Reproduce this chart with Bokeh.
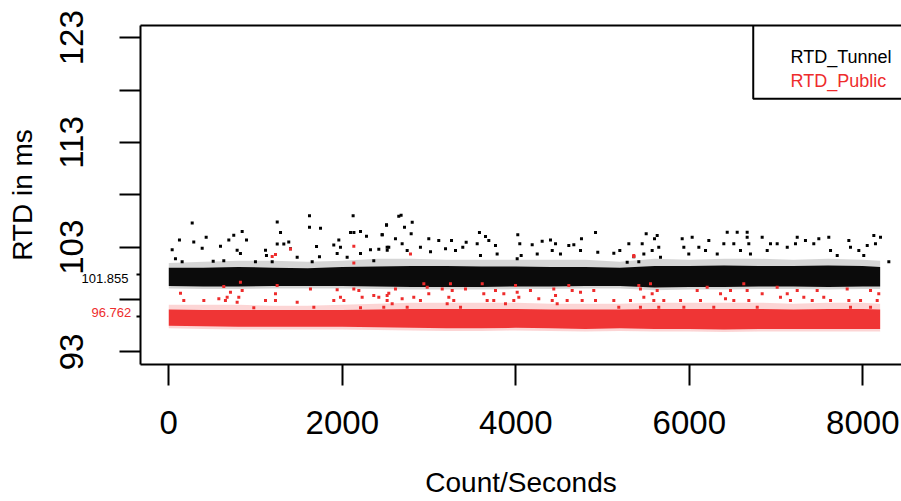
from bokeh.plotting import figure
from bokeh.models import Range1d, FixedTicker, LinearAxis, Label, ColumnDataSource
from bokeh.embed import file_html
from bokeh.resources import INLINE
from bokeh.core.properties import value

FONT = "Liberation Sans"
RED = "#EE2C2C"

# ---------------- data ----------------
x_ticks = [0, 2000, 4000, 6000, 8000]
y_ticks = [93, 98, 103, 108, 113, 118, 123]
y_tick_labels = {93: "93", 98: "", 103: "103", 108: "", 113: "113", 118: "", 123: "123"}
series_names = ["RTD_Tunnel", "RTD_Public"]
mean_labels = ["101.855", "96.762"]
mean_label_x = [-464, -433]
mean_label_pos = [100.03, 96.76]
mean_tick_pos = [100.39, 96.34]

# dense band of each series (lower / upper edge of the core and of the fringe)
band_x = [0, 400, 800, 1200, 1600, 2000, 2400, 2800, 3200, 3600, 4000,
          4400, 4800, 5200, 5600, 6000, 6400, 6800, 7200, 7600, 8000, 8200]
tunnel_hi_outer = [101.5, 101.6, 101.7, 101.7, 101.6, 101.7, 101.9, 101.9, 101.8, 101.8, 101.8,
                   101.8, 101.8, 101.6, 101.9, 101.8, 101.9, 101.9, 101.8, 101.9, 101.8, 101.7]
tunnel_hi = [101.05, 101.05, 101.1, 101.05, 101.0, 101.1, 101.15, 101.2, 101.2, 101.15, 101.15,
             101.1, 101.1, 101.05, 101.2, 101.2, 101.25, 101.2, 101.2, 101.25, 101.2, 101.1]
tunnel_lo = [99.3, 99.25, 99.25, 99.3, 99.3, 99.3, 99.25, 99.2, 99.2, 99.2, 99.25,
             99.25, 99.3, 99.3, 99.15, 99.2, 99.2, 99.25, 99.25, 99.2, 99.25, 99.25]
tunnel_lo_outer = [99.05, 99.0, 99.0, 99.05, 99.05, 99.05, 99.0, 98.95, 98.95, 98.95, 99.0,
                   99.0, 99.05, 99.05, 98.9, 98.95, 98.95, 99.0, 99.0, 98.95, 99.0, 99.0]
public_hi_outer = [97.5, 97.5, 97.5, 97.4, 97.4, 97.5, 97.6, 97.7, 97.7, 97.7, 97.7,
                   97.6, 97.6, 97.6, 97.7, 97.7, 97.7, 97.7, 97.6, 97.7, 97.7, 97.6]
public_hi = [97.05, 97.0, 97.0, 97.0, 97.0, 97.0, 97.05, 97.1, 97.1, 97.1, 97.1,
             97.05, 97.05, 97.05, 97.1, 97.1, 97.1, 97.1, 97.05, 97.1, 97.1, 97.05]
public_lo = [95.5, 95.45, 95.4, 95.4, 95.4, 95.4, 95.35, 95.3, 95.25, 95.25, 95.3,
             95.25, 95.2, 95.25, 95.2, 95.2, 95.15, 95.2, 95.2, 95.2, 95.2, 95.2]
public_lo_outer = [95.25, 95.2, 95.15, 95.15, 95.15, 95.15, 95.1, 95.05, 95.0, 95.0, 95.05,
                   95.0, 94.95, 95.0, 94.95, 94.95, 94.9, 94.95, 94.95, 94.95, 94.95, 94.95]

# isolated points outside the dense bands
tunnel_x = [270, 1250, 1622, 1622, 1749, 2125, 2095, 2134, 2210, 2279, 2510, 2460, 2536,
            123, 39, 288, 431, 385, 596, 692, 749, 846, 896, 826, 788, 1250, 1288, 1326,
            1383, 1403, 1115, 1126, 1192, 1480, 1653, 1703, 1737, 1902, 1960, 1979, 1941,
            2056, 2210, 2325, 2421, 2518, 2363, 77, 154, 512, 634, 999,
            2651, 2678, 2510, 2717, 2806, 2794, 2460, 2613, 2690, 2748, 2517, 2901, 2997,
            3017, 3112, 3190, 3259, 3305, 3389, 3428, 3581, 3651, 3555, 3593, 3689, 3766,
            3785, 4023, 4046, 4062, 4016, 4189, 4247, 4304, 4400, 4420, 4458, 4515, 4611,
            4669, 4757, 4746, 4919, 4945, 5130, 5199, 5303, 5360, 5284, 5418,
            5503, 5630, 5599, 5457, 5476, 5572, 5648, 5668, 5918, 6033, 5937, 5994, 6110,
            6225, 6187, 6322, 6437, 6552, 6667, 6667, 6398, 6513, 6590, 6686, 6705, 6840,
            6936, 6898, 7013, 7129, 7224, 7244, 7339, 7435, 7493, 7608, 7628, 7705, 7839,
            7858, 7954, 8011, 8051, 8127, 8204, 8146, 8300]
tunnel_y = [105.3, 105.4, 106.0, 104.9, 104.8, 106.0, 104.4, 104.4, 104.5, 104.05, 105.1, 104.2, 103.0,
            103.7, 102.75, 103.5, 103.95, 102.9, 103.1, 103.7, 104.15, 104.5, 103.7, 102.4, 102.7, 103.3, 104.4, 103.3,
            103.5, 102.85, 102.7, 102.2, 101.6, 102.05, 101.6, 103.07, 102.1, 103.2, 103.7, 103.0, 102.4,
            102.05, 102.4, 102.75, 102.8, 102.7, 101.7, 101.9, 101.6, 101.66, 101.7, 101.6,
            105.96, 106.06, 105.14, 104.91, 105.39, 104.28, 104.19, 103.8, 103.32, 102.68, 103.0, 103.0, 103.8,
            102.57, 103.64, 102.85, 103.64, 102.68, 103.0, 103.48, 104.4, 104.02, 103.32, 102.2, 103.64, 103.16,
            102.36, 104.2, 103.32, 102.2, 101.9, 103.23, 102.36, 103.57, 103.7, 102.68, 103.32, 102.36, 103.16,
            103.23, 103.8, 102.68, 104.4, 102.52, 102.42, 102.68, 103.32, 102.1, 101.56, 101.62,
            104.28, 104.12, 103.8, 103.32, 102.36, 102.68, 103.0, 102.04, 103.8, 103.96, 103.0, 102.36, 103.0,
            103.64, 102.68, 102.36, 104.44, 104.44, 104.44, 103.96, 103.32, 103.32, 102.68, 103.32, 102.36, 103.96,
            103.32, 102.68, 103.32, 103.0, 103.32, 103.96, 103.64, 103.32, 103.8, 103.96, 102.68, 102.2, 103.64,
            103.0, 102.68, 102.2, 103.16, 104.12, 103.96, 103.32, 101.62]

public_x = [1192, 1230, 1403, 2133, 2133, 826, 634, 711, 673, 846, 135, 173, 404, 577, 653,
            788, 807, 1230, 1249, 1230, 1480, 1633, 1902, 1979, 2018, 2133, 2191, 2229, 2363,
            2421, 2536, 1941, 1115, 980, 1672, 2210, 2517,
            2786, 2940, 2979, 2997, 2901, 2824, 2613, 2517, 2478, 2690, 2575, 2748, 3152, 3247,
            3267, 3228, 3209, 3285, 3420, 3363, 3613, 3631, 3670, 3766, 3746, 3862, 3881, 3997,
            4016, 3977, 4035, 4169, 4265, 4438, 4458, 4420, 4477, 4611, 4650, 4592, 4746, 4765,
            4899, 4919, 5130, 5187, 5360, 5322, 5418,
            5360, 5437, 5476, 5437, 5553, 5572, 5591, 5630, 5648, 5706, 5899, 5937, 6091, 6129,
            6206, 6282, 6360, 6417, 6475, 6513, 6628, 6667, 6686, 6783, 6840, 7013, 7051, 7129,
            7166, 7244, 7320, 7417, 7474, 7550, 7628, 7820, 7839, 7858, 7974, 8089, 8166, 8184, 8089]
public_y = [102.11, 102.3, 102.84, 103.1, 101.48, 99.66, 99.25, 98.71, 98.23, 98.87, 98.61, 97.91, 97.91, 98.07, 97.91,
            97.75, 98.23, 98.55, 99.35, 97.91, 97.75, 99.02, 97.91, 98.23, 97.91, 99.02, 98.87, 98.23, 98.39,
            98.23, 98.61, 98.93, 97.91, 97.21, 97.27, 97.21, 97.91,
            102.36, 99.5, 99.18, 98.55, 97.91, 98.23, 99.02, 98.39, 97.27, 98.07, 97.59, 97.27, 99.02, 99.5,
            98.87, 98.23, 97.59, 97.91, 99.02, 97.27, 99.5, 98.55, 97.91, 98.87, 97.91, 98.55, 97.59, 99.34,
            98.71, 97.91, 98.23, 98.87, 98.07, 99.02, 98.39, 97.91, 97.59, 99.34, 98.87, 97.91, 98.71, 97.91,
            98.87, 97.91, 97.91, 97.27, 102.2, 97.91, 99.34,
            102.11, 99.02, 98.23, 97.27, 99.5, 98.55, 97.91, 98.87, 97.27, 97.91, 97.91, 97.27, 98.87, 97.91,
            99.18, 97.27, 98.55, 98.07, 98.87, 97.91, 99.5, 98.87, 97.91, 97.27, 98.55, 99.18, 98.23, 98.55,
            97.91, 98.87, 98.23, 97.91, 98.87, 98.23, 97.91, 99.02, 97.91, 97.27, 97.91, 97.27, 97.91, 98.55, 98.87]

# ---------------- figure ----------------
X0, X1 = -326, 8446
Y0, Y1 = 91.80, 124.17

p = figure(width=901, height=501, output_backend="svg", toolbar_location=None,
           x_range=Range1d(X0, X1), y_range=Range1d(Y0, Y1),
           min_border_left=140, min_border_right=0, min_border_top=25, min_border_bottom=137,
           background_fill_color="white", border_fill_color="white")
p.outline_line_color = None
p.xgrid.visible = False
p.ygrid.visible = False

# bands
p.varea(x=band_x, y1=tunnel_lo_outer, y2=tunnel_hi_outer, fill_color="black", fill_alpha=0.16)
p.varea(x=band_x, y1=tunnel_lo, y2=tunnel_hi, fill_color="black", fill_alpha=0.95)
p.scatter(tunnel_x, tunnel_y, marker="square", size=3, fill_color="black", line_color=None)

p.varea(x=band_x, y1=public_lo_outer, y2=public_hi_outer, fill_color=RED, fill_alpha=0.2)
p.varea(x=band_x, y1=public_lo, y2=public_hi, fill_color=RED, fill_alpha=0.95)
p.scatter(public_x, public_y, marker="square", size=3, fill_color=RED, line_color=None)

# axes
for ax in (p.xaxis[0], p.yaxis[0]):
    ax.axis_line_width = 2
    ax.major_tick_line_width = 2
    ax.major_tick_out = 21
    ax.major_tick_in = 0
    ax.major_label_text_font = FONT
    ax.major_label_text_font_size = "33px"
    ax.major_label_text_color = "black"
    ax.axis_label_text_font = FONT
    ax.axis_label_text_font_size = "28px"
    ax.axis_label_text_font_style = "normal"
    ax.axis_label_text_color = "black"

p.xaxis[0].ticker = FixedTicker(ticks=x_ticks)
p.xaxis[0].minor_tick_line_color = None
p.xaxis[0].axis_label = "Count/Seconds"
p.xaxis[0].major_label_standoff = 25
p.xaxis[0].axis_label_standoff = 30

p.yaxis[0].ticker = FixedTicker(ticks=y_ticks, minor_ticks=mean_tick_pos)
p.yaxis[0].major_label_overrides = y_tick_labels
p.yaxis[0].major_label_orientation = "vertical"
p.yaxis[0].minor_tick_out = 4
p.yaxis[0].minor_tick_in = 0
p.yaxis[0].minor_tick_line_width = 2
p.yaxis[0].axis_label = "RTD in ms"
p.yaxis[0].major_label_standoff = 36
p.yaxis[0].axis_label_standoff = 20

top = LinearAxis(ticker=FixedTicker(ticks=[]), major_tick_line_color=None,
                 minor_tick_line_color=None, major_label_text_font_size="0px",
                 axis_line_width=2)
p.add_layout(top, "above")

# mean labels: placed in a side panel so they are not clipped to the frame
for txt, xx, yy, col in zip(mean_labels, mean_label_x, mean_label_pos, ["black", RED]):
    p.add_layout(Label(x=xx, y=yy, x_units="data", y_units="data",
                       text=txt, text_align="right", text_baseline="middle",
                       text_font=FONT, text_font_size="13px", text_color=col), "above")

# legend box
LX, LY = 6737, 117.17
p.line(x=[LX, LX, X1 + 500], y=[Y1 + 1, LY, LY], line_color="black", line_width=2)
src = ColumnDataSource(dict(x=[7167, 7167], y=[121.12, 118.83], t=series_names, c=["black", RED]))
p.text(x="x", y="y", text="t", text_color="c", source=src, text_font=value(FONT),
       text_font_size="18px", text_baseline="alphabetic", text_align="left")

open("out.html", "w").write(file_html(p, INLINE))
